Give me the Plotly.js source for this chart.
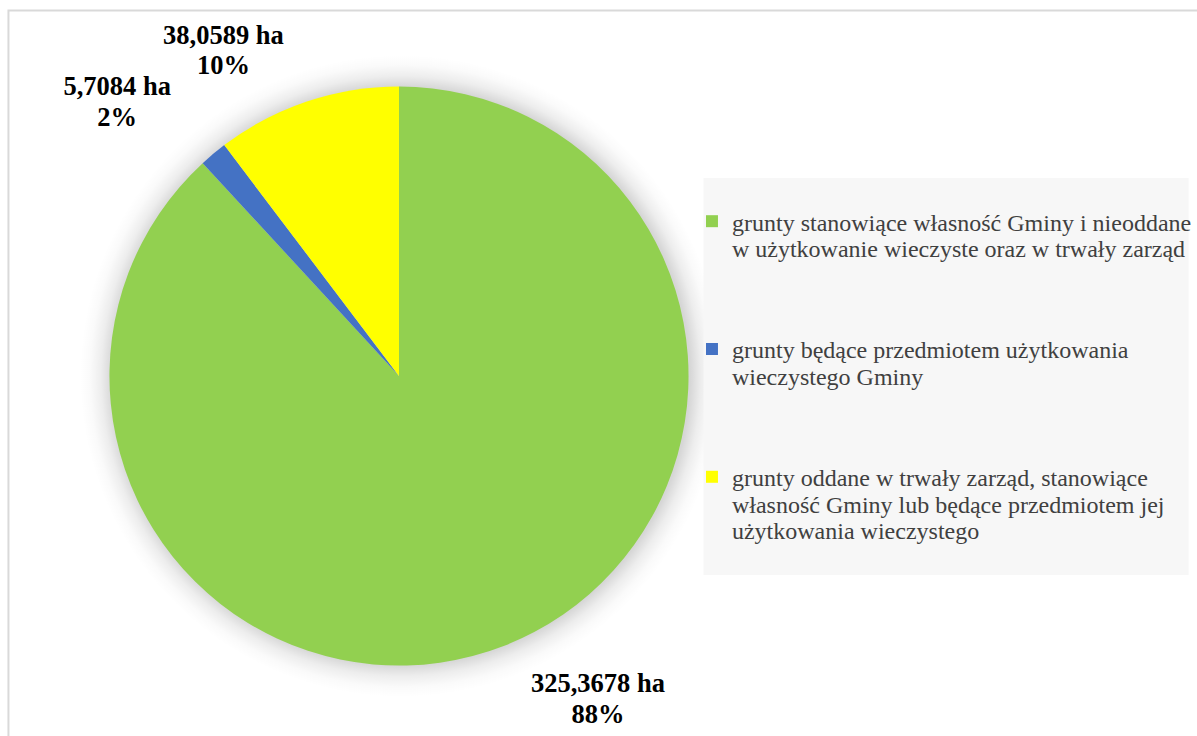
<!DOCTYPE html>
<html>
<head>
<meta charset="utf-8">
<script src="https://cdn.plot.ly/plotly-3.0.1.min.js"></script>
<style>
html,body{margin:0;padding:0;background:#fff;}
#chart{width:1197px;height:736px;}
</style>
</head>
<body>
<div id="chart"></div>
<script>
var categories = [
  "grunty stanowiące własność Gminy i nieoddane<br>w użytkowanie wieczyste oraz w trwały zarząd",
  "grunty będące przedmiotem użytkowania<br>wieczystego Gminy",
  "grunty oddane w trwały zarząd, stanowiące<br>własność Gminy lub będące przedmiotem jej<br>użytkowania wieczystego"
];
var legendPadding = ["<br> <br> ", "<br> <br> ", ""];
var values = [325.3678, 5.7084, 38.0589];
var colors = ["#92d050", "#4472c4", "#ffff00"];

var serif = "Liberation Serif, Times New Roman, serif";
var W = 1197, H = 736;
var pxC = 401, pyC = 376, rPie = 291;          // pie centre and radius in pixels
var cx = pxC / W, cy = 1 - pyC / H;
function dom(r){ return {x: [cx - r / W, cx + r / W], y: [cy - r / H, cy + r / H]}; }
var labelTpl = "<b>%{value:.4f} ha</b><br><b>%{percent:.0%}</b>";
var clear = ["rgba(0,0,0,0)", "rgba(0,0,0,0)", "rgba(0,0,0,0)"];
var fullLabels = categories.map(function(c, i){ return c + legendPadding[i]; });

// soft halo behind the pie (outer shadow of the source chart)
document.getElementById("chart").style.background =
  "radial-gradient(circle at " + pxC + "px " + pyC + "px, rgba(0,0,0,0.16) " + (rPie - 2) + "px, " +
  "rgba(0,0,0,0.07) " + (rPie + 9) + "px, rgba(0,0,0,0.02) " + (rPie + 20) + "px, rgba(0,0,0,0) " + (rPie + 30) + "px)";

function ring(r, show){
  return {
    type: "pie",
    labels: fullLabels,
    values: values,
    sort: false,
    direction: "clockwise",
    rotation: 0,
    marker: {colors: clear, line: {width: 0}},
    textinfo: "none",
    textposition: show.map(function(s){ return s ? "outside" : "none"; }),
    texttemplate: show.map(function(s){ return s ? labelTpl : ""; }),
    outsidetextfont: {family: serif, size: 26.5, color: "#000"},
    textfont: {family: serif, size: 26.5, color: "#000"},
    hoverinfo: "none",
    showlegend: false,
    automargin: false,
    domain: dom(r)
  };
}

var pie = {
  type: "pie",
  labels: fullLabels,
  values: values,
  sort: false,
  direction: "clockwise",
  rotation: 0,
  marker: {colors: colors, line: {width: 0}},
  textinfo: "none",
  hoverinfo: "none",
  automargin: false,
  domain: dom(rPie)
};

var layout = {
  width: W,
  height: H,
  margin: {l: 0, r: 0, t: 0, b: 0},
  paper_bgcolor: "rgba(0,0,0,0)",
  separators: ", ",
  showlegend: true,
  legend: {
    x: 0.581, xanchor: "left",
    y: 0.7295, yanchor: "top",
    bgcolor: "rgba(0,0,0,0)",
    valign: "top",
    font: {family: serif, size: 24, color: "#404040"},
    traceorder: "normal"
  },
  shapes: [
    {type: "rect", xref: "paper", yref: "paper", x0: 0.5907, x1: 0.998, y0: 0.2188, y1: 0.7582,
     fillcolor: "#f7f7f7", line: {width: 0}, layer: "below"},
    {type: "rect", xref: "paper", yref: "paper", x0: 0.0071, x1: 1.01, y0: -0.02, y1: 0.9857,
     fillcolor: "rgba(0,0,0,0)", line: {color: "#d9d9d9", width: 2}, layer: "above"}
  ]
};

Plotly.newPlot("chart", [pie, ring(320, [true, false, false]), ring(313, [false, false, true]), ring(332, [false, true, false])],
               layout, {staticPlot: true}).then(function(){
  function squeeze(sel, k){
    document.querySelectorAll(sel).forEach(function(t){
      var d = parseFloat(t.getAttribute("dy"));
      if (d) t.setAttribute("dy", (d * k) + "em");
    });
  }
  squeeze(".legendtext tspan.line", 1.1 / 1.3);
  squeeze(".pielayer .slicetext tspan.line", 1.15 / 1.3);
});
</script>
</body>
</html>
